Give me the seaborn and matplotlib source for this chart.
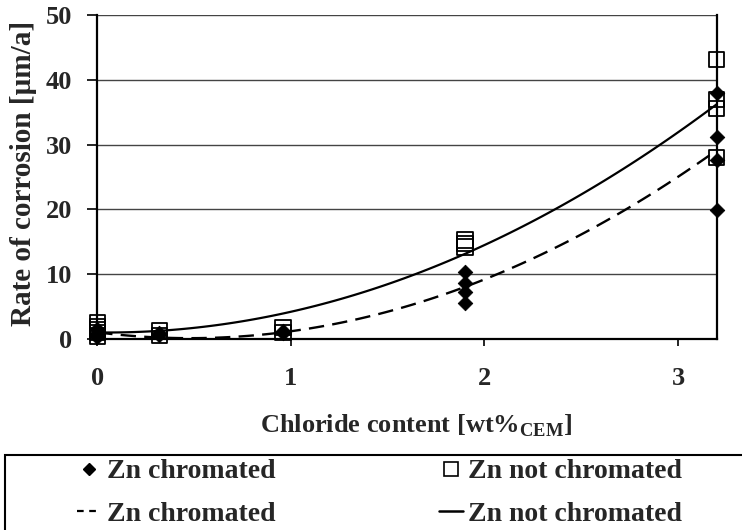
import matplotlib
matplotlib.use("Agg")
import matplotlib.pyplot as plt
from matplotlib.lines import Line2D
from matplotlib.patches import Rectangle
import numpy as np
import pandas as pd
import seaborn as sns

# Chloride content [wt% of cement] and corrosion rate [µm/a]
x_chromated = [0, 0, 0, 0, 0.32, 0.32, 0.96, 0.96, 1.9, 1.9, 1.9, 1.9, 3.2, 3.2, 3.2, 3.2]
y_chromated = [1.5, 1.0, 0.6, 0.3, 1.0, 0.6, 1.3, 0.9, 10.4, 8.6, 7.2, 5.6, 38.0, 31.2, 27.6, 19.9]

x_not_chromated = [0, 0, 0, 0, 0, 0.32, 0.32, 0.96, 0.96, 1.9, 1.9, 1.9, 3.2, 3.2, 3.2, 3.2]
y_not_chromated = [2.5, 2.0, 1.5, 1.0, 0.5, 1.3, 0.6, 1.8, 1.0, 15.3, 14.7, 14.2, 43.1, 37.0, 35.6, 28.0]

x_ticks = [0, 1, 2, 3]
y_ticks = [0, 10, 20, 30, 40, 50]
label_chromated = "Zn chromated"
label_not_chromated = "Zn not chromated"

df_c = pd.DataFrame({"x": x_chromated, "y": y_chromated})
df_n = pd.DataFrame({"x": x_not_chromated, "y": y_not_chromated})

sns.set_theme(style="white")
plt.rcParams["font.family"] = ["Liberation Serif", "DejaVu Serif"]
plt.rcParams["font.weight"] = "bold"
plt.rcParams["axes.labelweight"] = "bold"
plt.rcParams["mathtext.default"] = "bf"

fig = plt.figure(figsize=(7.42, 5.30), dpi=100)
ax = fig.add_axes([0.131, 0.360, 0.835, 0.612])

# horizontal grid
for v in y_ticks[1:]:
    ax.axhline(v, color="#444444", lw=1.0, zorder=0)

# quadratic trend lines
sns.regplot(data=df_c, x="x", y="y", order=2, ci=None, scatter=False, ax=ax,
            line_kws=dict(color="black", lw=1.7, ls=(0, (6.5, 3.5)), zorder=2))
sns.regplot(data=df_n, x="x", y="y", order=2, ci=None, scatter=False, ax=ax,
            line_kws=dict(color="black", lw=1.6, ls="-", zorder=2))

# measured points
sns.scatterplot(data=df_n, x="x", y="y", marker="s", s=120, facecolor="none",
                edgecolor="black", linewidth=1.3, ax=ax, zorder=3, clip_on=False)
sns.scatterplot(data=df_c, x="x", y="y", marker="D", s=55, color="black",
                edgecolor="black", ax=ax, zorder=4, clip_on=False)

ax.set_xlim(0, 3.2)
ax.set_ylim(0, 50)
ax.set_xticks(x_ticks)
ax.set_yticks(y_ticks)
ax.tick_params(axis="y", direction="out", length=7, width=1.2, color="black",
               labelsize=19, pad=11, left=True)
ax.tick_params(axis="x", direction="out", length=5, width=1.2, color="black",
               labelsize=19, pad=15, bottom=True)
for lab in ax.get_xticklabels() + ax.get_yticklabels():
    lab.set_fontweight("bold")

for side in ["left", "bottom", "right"]:
    ax.spines[side].set_visible(True)
    ax.spines[side].set_color("black")
    ax.spines[side].set_linewidth(1.6)
ax.spines["top"].set_visible(False)

ax.set_xlabel(r"Chloride content [wt%$_{\mathregular{CEM}}$]", fontsize=19,
              fontweight="bold")
ax.xaxis.set_label_coords(0.515, -0.225)
ax.set_ylabel("Rate of corrosion [µm/a]", fontsize=21, fontweight="bold")
ax.yaxis.set_label_coords(-0.097, 0.51)

# legend box at the bottom
fig.patches.append(Rectangle((0.007, -0.02), 1.1, 0.162, transform=fig.transFigure,
                             facecolor="white", edgecolor="black", lw=1.5, zorder=0))
handles = [
    Line2D([], [], marker="D", color="black", ls="none", markersize=6),
    Line2D([], [], color="black", lw=1.6, ls=(0, (3, 2.5))),
    Line2D([], [], marker="s", markerfacecolor="none", markeredgecolor="black",
           ls="none", markersize=10, markeredgewidth=1.2),
    Line2D([], [], color="black", lw=1.8, ls="-"),
]
labels = [label_chromated, label_chromated, label_not_chromated, label_not_chromated]
fig.legend(handles, labels, loc="center", bbox_to_anchor=(0.512, 0.07), ncol=2,
           frameon=False, prop=dict(family="Liberation Serif", weight="bold", size=20),
           handlelength=0.85, handletextpad=0.2, columnspacing=5.9, labelspacing=0.62)

fig.savefig("out.png", dpi=100)
